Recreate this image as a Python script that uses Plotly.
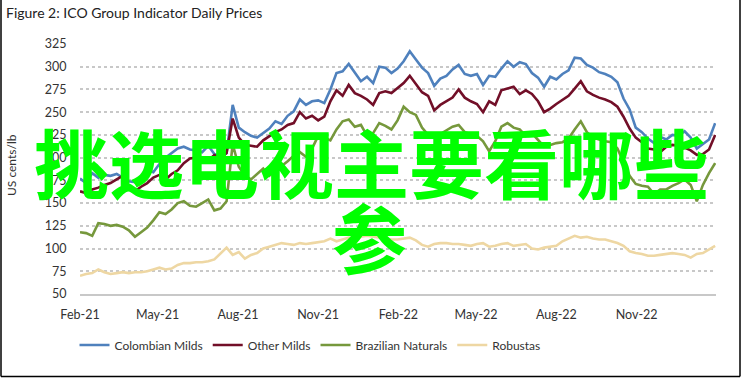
import pandas as pd
import plotly.graph_objects as go

# weekly observation dates (Mondays), Feb-2021 .. Jan-2023
dates = pd.date_range("2021-02-01", periods=105, freq="7D")

colombian_milds = [
    177, 172, 183, 178, 181, 180, 182, 178, 174, 173, 180, 186, 184, 193, 200, 205, 210, 212, 209, 208,
    206, 213, 204, 201, 205, 258, 233, 228, 224, 222, 227, 232, 240, 237, 246, 251, 264, 258, 262, 263,
    260, 275, 293, 295, 303, 293, 284, 289, 282, 300, 299, 293, 298, 306, 317, 308, 299, 293, 279, 287,
    290, 297, 302, 292, 290, 292, 280, 290, 289, 298, 306, 300, 305, 303, 293, 288, 278, 289, 286, 292,
    296, 310, 309, 302, 299, 294, 292, 289, 283, 265, 253, 233, 228, 221, 216, 223, 220, 225, 224, 229,
    222, 210, 215, 220, 238,
]
other_milds = [
    163, 161, 165, 167, 170, 172, 176, 180, 166, 163, 168, 172, 178, 181, 176, 182, 186, 194, 199, 200,
    198, 197, 203, 200, 205, 243, 222, 214, 213, 212, 219, 224, 228, 231, 236, 238, 250, 243, 246, 241,
    245, 262, 274, 268, 280, 271, 268, 264, 258, 271, 273, 271, 276, 282, 290, 281, 272, 268, 252, 258,
    262, 266, 275, 266, 262, 259, 250, 262, 258, 274, 276, 278, 270, 274, 270, 262, 250, 254, 259, 264,
    268, 276, 284, 273, 269, 266, 264, 261, 256, 245, 232, 222, 217, 210, 209, 206, 212, 214, 213, 211,
    208, 203, 204, 209, 225,
]
brazilian_naturals = [
    118, 117, 114, 128, 127, 125, 126, 124, 120, 113, 118, 123, 131, 140, 138, 143, 150, 152, 147, 146,
    150, 154, 142, 144, 152, 215, 190, 180, 176, 182, 188, 180, 185, 191, 196, 202, 206, 201, 210, 224,
    222, 219, 231, 240, 242, 234, 236, 224, 227, 238, 235, 231, 241, 256, 250, 247, 233, 225, 222, 226,
    230, 234, 236, 228, 226, 224, 218, 207, 218, 234, 238, 233, 231, 224, 227, 220, 212, 214, 216, 217,
    221, 231, 240, 228, 222, 220, 218, 217, 210, 195, 180, 171, 169, 168, 160, 165, 165, 169, 172, 176,
    170, 152, 170, 183, 194,
]
robustas = [
    70, 72, 73, 77, 74, 72, 73, 74, 73, 74, 74, 75, 77, 79, 77, 78, 82, 84, 84, 85,
    85, 86, 88, 94, 101, 93, 96, 89, 93, 95, 100, 102, 104, 106, 105, 104, 106, 105, 106, 107,
    108, 111, 108, 110, 112, 111, 113, 114, 113, 112, 111, 110, 110, 111, 112, 109, 104, 102, 105, 106,
    106, 105, 105, 104, 103, 105, 106, 102, 103, 105, 106, 103, 104, 105, 100, 99, 101, 102, 103, 108,
    111, 114, 112, 113, 111, 110, 110, 108, 106, 103, 97, 95, 94, 92, 92, 93, 94, 95, 94, 93,
    90, 94, 95, 99, 103,
]

series_names = ["Colombian Milds", "Other Milds", "Brazilian Naturals", "Robustas"]
series_values = [colombian_milds, other_milds, brazilian_naturals, robustas]
series_colors = ["#4f81bd", "#720f28", "#76983c", "#eed7a3"]

y_ticks = [50, 75, 100, 125, 150, 175, 200, 225, 250, 275, 300, 325]

W, H = 745, 378
ML, MR, MT, MB = 80, 29, 44, 84
PW, PH = W - ML - MR, H - MT - MB

FONT = "Lato, 'DejaVu Sans', sans-serif"

fig = go.Figure()
for name, vals, col in zip(series_names, series_values, series_colors):
    fig.add_trace(go.Scatter(x=dates, y=vals, name=name, mode="lines",
                             line=dict(color=col, width=2.6)))


def px_x(p):
    return (p - ML) / PW


def px_y(p):
    return (H - MB - p) / PH


shapes = [
    dict(type="line", xref="paper", yref="paper", x0=px_x(1), x1=px_x(1), y0=px_y(0), y1=px_y(376.5),
         line=dict(color="black", width=1.5)),
    dict(type="line", xref="paper", yref="paper", x0=px_x(1), x1=px_x(740), y0=px_y(376.5), y1=px_y(376.5),
         line=dict(color="black", width=1.5)),
    dict(type="line", xref="paper", yref="paper", x0=px_x(740), x1=px_x(740), y0=px_y(0), y1=px_y(376.5),
         line=dict(color="black", width=1.5)),
]

annotations = [
    dict(text="Figure 2: ICO Group Indicator Daily Prices", xref="paper", yref="paper",
         x=px_x(4), y=px_y(12), showarrow=False, xanchor="left", yanchor="middle",
         font=dict(family=FONT, size=14, color="#222222")),
    dict(text="US cents/lb", xref="paper", yref="paper", x=px_x(11), y=px_y(165), textangle=-90,
         showarrow=False, font=dict(family=FONT, size=12, color="#333333"), xanchor="center", yanchor="middle"),
    dict(text="<b>挑选电视主要看哪些</b>", xref="paper", yref="paper", x=px_x(371), y=px_y(160),
         showarrow=False, font=dict(family="Noto Sans CJK SC", size=75, color="#00ff00"),
         xanchor="center", yanchor="middle"),
    dict(text="<b>参</b>", xref="paper", yref="paper", x=px_x(369), y=px_y(235),
         showarrow=False, font=dict(family="Noto Sans CJK SC", size=75, color="#00ff00"),
         xanchor="center", yanchor="middle"),
]

fig.update_layout(
    width=W, height=H,
    margin=dict(l=ML, r=MR, t=MT, b=MB, autoexpand=False),
    paper_bgcolor="white", plot_bgcolor="white",
    font=dict(family=FONT, size=13, color="#333333"),
    showlegend=True,
    legend=dict(orientation="h", x=px_x(310), y=px_y(345), xanchor="center", yanchor="middle",
                font=dict(family=FONT, size=12, color="#333333"), bgcolor="rgba(0,0,0,0)"),
    shapes=shapes,
    annotations=annotations,
)

fig.update_xaxes(range=["2021-02-01", "2023-01-31"], tickformat="%b-%y", dtick="M3", tick0="2021-02-01",
                 showgrid=False, showline=True, linecolor="#c8c8c8", linewidth=1.5,
                 ticks="outside", ticklen=8, tickcolor="rgba(0,0,0,0)",
                 tickfont=dict(family=FONT, size=12.5, color="#333333"), zeroline=False)
fig.update_yaxes(range=[50, 325], tickvals=y_ticks, showgrid=True, gridcolor="#c8c8c8", griddash="dot",
                 gridwidth=1.5, showline=False, zeroline=False,
                 ticks="outside", ticklen=10, tickcolor="rgba(0,0,0,0)",
                 tickfont=dict(family=FONT, size=12.5, color="#333333"))

fig.write_html("out.html", config={"displayModeBar": False},
               post_script="document.body.style.margin='0';document.body.style.padding='0';")
